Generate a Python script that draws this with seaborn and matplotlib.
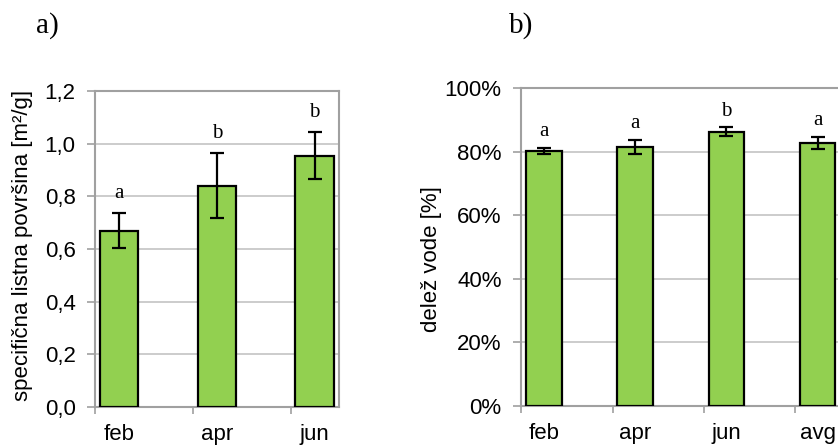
import matplotlib
matplotlib.use("Agg")
import matplotlib.pyplot as plt
import seaborn as sns
import pandas as pd
import numpy as np

# ---------------- data ----------------
months_a = ["feb", "apr", "jun"]
sla_mean = [0.67, 0.84, 0.955]
sla_sd = [0.066, 0.123, 0.09]
sla_letters = ["a", "b", "b"]
sla_ticks = [0.0, 0.2, 0.4, 0.6, 0.8, 1.0, 1.2]
sla_ticklabels = ["0,0", "0,2", "0,4", "0,6", "0,8", "1,0", "1,2"]
sla_ylabel = "specifična listna površina [m²/g]"

months_b = ["feb", "apr", "jun", "avg"]
water_mean = [0.802, 0.815, 0.863, 0.827]
water_sd = [0.010, 0.021, 0.013, 0.020]
water_letters = ["a", "a", "b", "a"]
water_ticks = [0.0, 0.2, 0.4, 0.6, 0.8, 1.0]
water_ticklabels = ["0%", "20%", "40%", "60%", "80%", "100%"]
water_ylabel = "delež vode [%]"

# ---------------- style ----------------
sns.set_style("white")
plt.rcParams["font.family"] = ["Liberation Sans", "DejaVu Sans"]
plt.rcParams["text.color"] = "black"
plt.rcParams["xtick.color"] = "black"
plt.rcParams["ytick.color"] = "black"
GREEN = "#92D050"
FRAME = "#a0a0a0"
GRID = "#c4c4c4"
SANS = 16
SERIF = ["Liberation Serif", "DejaVu Serif"]

fig = plt.figure(figsize=(8.38, 4.45), dpi=100)
fig.patch.set_facecolor("white")

ax_a = fig.add_axes([95 / 838, 1 - 407 / 445, 244 / 838, 316 / 445])
ax_b = fig.add_axes([521 / 838, 1 - 406 / 445, 365 / 838, 318 / 445])


def panel(ax, cats, means, sds, letters, ticks, ticklabels, ylim, xlim, letter_off):
    df = pd.DataFrame({"month": cats, "value": means})
    sns.barplot(data=df, x="month", y="value", ax=ax, color=GREEN, saturation=1,
                width=0.39, edgecolor="black", linewidth=1.6, errorbar=None, zorder=3)
    pos = np.arange(len(cats))
    ax.errorbar(pos, means, yerr=sds, fmt="none", ecolor="black",
                elinewidth=1.6, capsize=4.8, capthick=1.6, zorder=4)
    for i, (m, s, l) in enumerate(zip(means, sds, letters)):
        ax.annotate(l, xy=(i, m + s), xytext=(0, letter_off), textcoords="offset points",
                    ha="center", va="baseline", fontsize=15, family=SERIF, color="black")
    ax.set_ylim(*ylim)
    ax.set_xlim(*xlim)
    ax.set_yticks(ticks)
    ax.set_yticklabels(ticklabels, fontsize=SANS)
    ax.set_xticks(pos)
    ax.set_xticklabels(cats, fontsize=SANS)
    ax.set_xticks(pos - 0.245, minor=True)
    ax.set_xlabel("")
    ax.set_ylabel("")
    ax.set_axisbelow(True)
    ax.yaxis.grid(True, color=GRID, linewidth=1.2)
    ax.xaxis.grid(False)
    for sp in ax.spines.values():
        sp.set_visible(True)
        sp.set_color(FRAME)
        sp.set_linewidth(1.5)
    ax.tick_params(axis="x", which="major", length=0, pad=12, labelcolor="black")
    ax.tick_params(axis="x", which="minor", length=5, width=1.2, color=FRAME, direction="out", bottom=True)
    ax.tick_params(axis="y", which="major", length=6, width=1.2, color=FRAME, direction="out",
                   left=True, pad=8, labelcolor="black")


panel(ax_a, months_a, sla_mean, sla_sd, sla_letters, sla_ticks, sla_ticklabels,
      (0, 1.2), (-0.24, 2.25), 11)
panel(ax_b, months_b, water_mean, water_sd, water_letters, water_ticks, water_ticklabels,
      (0, 1.0), (-0.25, 3.75), 8.5)

fig.text(23 / 838, 1 - 245 / 445, sla_ylabel, rotation=90, ha="center", va="center", fontsize=SANS)
fig.text(431 / 838, 1 - 259 / 445, water_ylabel, rotation=90, ha="center", va="center", fontsize=SANS)

fig.text(47 / 838, 1 - 26 / 445, "a)", ha="center", va="center", fontsize=21, family=SERIF)
fig.text(521 / 838, 1 - 26 / 445, "b)", ha="center", va="center", fontsize=21, family=SERIF)

fig.savefig("out.png", dpi=100, facecolor="white")
